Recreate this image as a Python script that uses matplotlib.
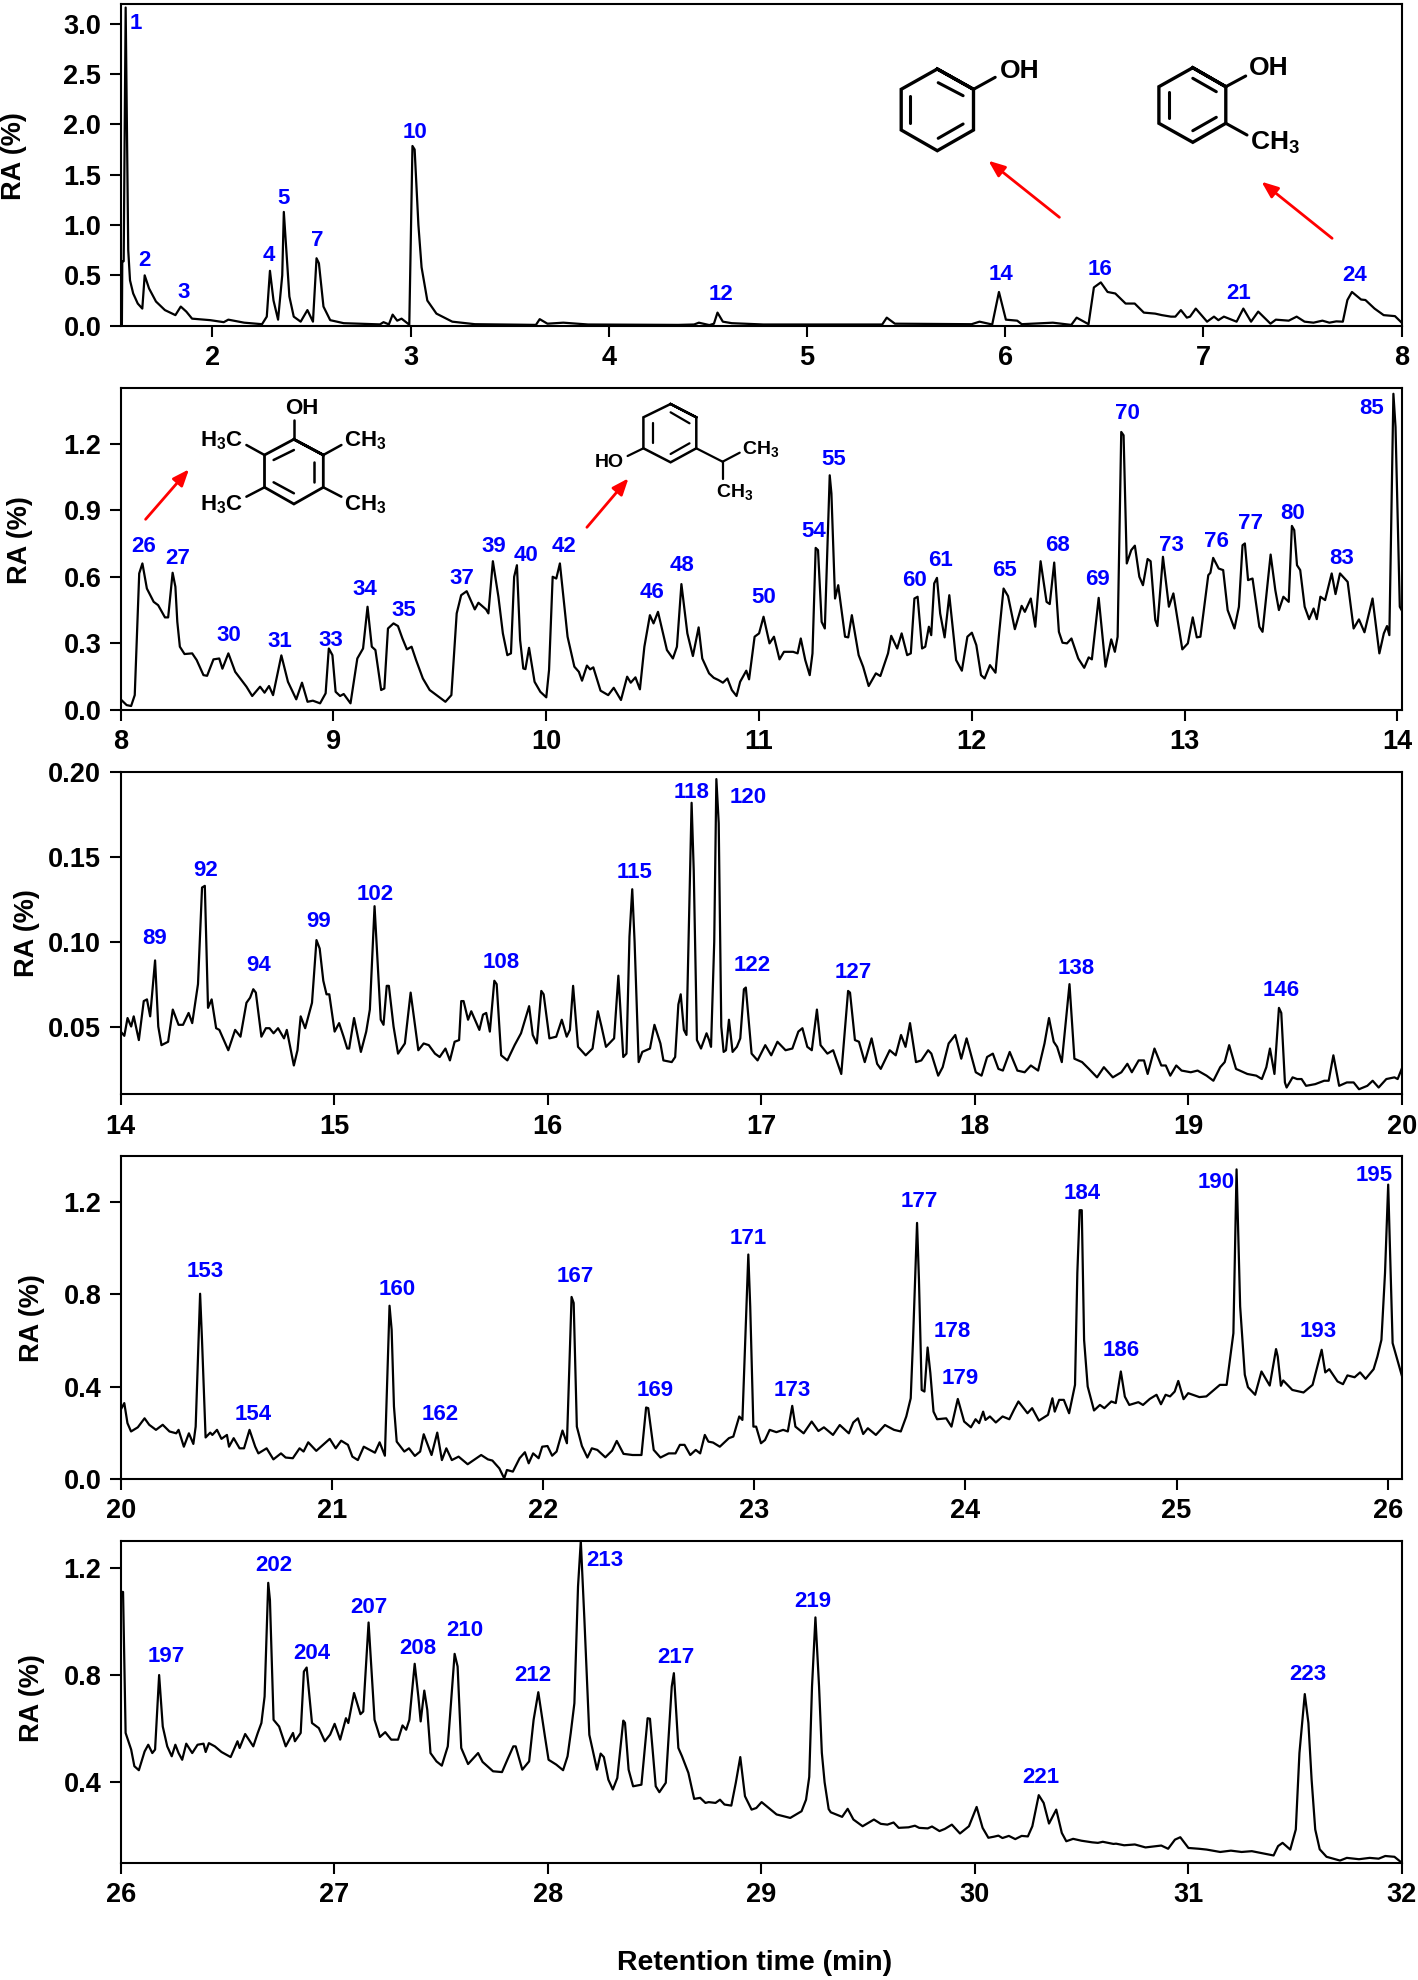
#!/usr/bin/env python
import matplotlib
matplotlib.use('Agg')
import matplotlib.pyplot as plt

plt.rcParams['font.family'] = ['Liberation Sans', 'DejaVu Sans']
plt.rcParams['font.weight'] = 'bold'
plt.rcParams['mathtext.fontset'] = 'custom'
plt.rcParams['mathtext.bf'] = 'Liberation Sans:bold'
plt.rcParams['mathtext.rm'] = 'Liberation Sans:bold'
plt.rcParams['mathtext.default'] = 'bf'

# panel 1, 1.5 - 8 min
t1 = [1.54,1.543,1.545,1.552,1.562,1.575,1.584,1.60,1.623,1.646,1.658,1.68,1.715,1.76,1.813,1.84,1.868,1.897,1.989,2.057,2.08,2.16,2.25,2.274,2.29,2.308,2.331,2.352,2.36,2.388,2.41,2.445,2.479,2.507,2.525,2.537,2.56,2.594,2.662,2.845,2.863,2.89,2.909,2.932,2.954,2.993,3.009,3.02,3.039,3.055,3.084,3.13,3.21,3.324,3.553,3.632,3.651,3.69,3.77,3.895,4.35,4.43,4.454,4.507,4.53,4.548,4.575,4.62,4.78,5.379,5.402,5.443,5.83,5.87,5.934,5.968,6.003,6.06,6.083,6.24,6.333,6.36,6.42,6.447,6.482,6.516,6.555,6.607,6.653,6.699,6.756,6.79,6.836,6.858,6.886,6.916,6.932,6.961,7.018,7.053,7.075,7.103,7.167,7.201,7.24,7.276,7.338,7.365,7.43,7.47,7.51,7.555,7.6,7.635,7.67,7.703,7.726,7.749,7.795,7.817,7.863,7.909,7.966,8.0]
ra1 = [0.0,0.0,.64,.64,3.16,.75,.45,.32,.22,.17,.50,.37,.24,.155,.105,.19,.14,.07,.055,.035,.06,.03,.015,.09,.545,.25,.06,.5,1.13,.29,.09,.04,.155,.04,.67,.62,.19,.055,.025,.013,.035,.013,.11,.05,.07,.01,1.785,1.75,1.0,.58,.25,.12,.04,.015,.01,.008,.065,.02,.03,.012,.008,.012,.03,.006,.02,.13,.04,.025,.012,.012,.08,.02,.015,.04,.012,.335,.06,.05,.015,.03,.008,.08,.015,.38,.43,.335,.32,.22,.22,.13,.12,.105,.09,.09,.155,.08,.09,.17,.04,.09,.055,.09,.04,.17,.04,.14,.02,.06,.05,.09,.04,.03,.05,.03,.043,.04,.255,.335,.26,.255,.17,.105,.095,.03]

# panel 2, 8 - 14 min
t2 = [8.0,8.028,8.049,8.066,8.087,8.102,8.123,8.155,8.176,8.208,8.223,8.244,8.257,8.266,8.278,8.3,8.336,8.357,8.389,8.406,8.436,8.463,8.478,8.506,8.538,8.591,8.618,8.655,8.676,8.697,8.716,8.755,8.786,8.825,8.852,8.878,8.903,8.937,8.963,8.978,8.995,9.01,9.031,9.048,9.08,9.112,9.139,9.16,9.18,9.197,9.224,9.239,9.256,9.282,9.303,9.324,9.345,9.367,9.388,9.42,9.452,9.484,9.526,9.554,9.579,9.6,9.626,9.664,9.681,9.717,9.728,9.749,9.775,9.796,9.817,9.834,9.849,9.862,9.877,9.892,9.902,9.919,9.945,9.972,10.0,10.013,10.03,10.047,10.064,10.1,10.132,10.153,10.168,10.191,10.206,10.221,10.255,10.291,10.317,10.351,10.38,10.397,10.419,10.44,10.461,10.487,10.504,10.525,10.567,10.595,10.614,10.635,10.663,10.689,10.716,10.733,10.765,
      10.787,10.809,10.83,10.851,10.872,10.894,10.911,10.94,10.953,10.979,11.0,11.021,11.049,11.07,11.096,11.117,11.16,11.181,11.196,11.217,11.238,11.251,11.266,11.277,11.294,11.309,11.332,11.34,11.357,11.372,11.404,11.419,11.436,11.468,11.489,11.515,11.549,11.57,11.606,11.621,11.649,11.67,11.696,11.713,11.73,11.745,11.766,11.781,11.798,11.809,11.823,11.836,11.851,11.872,11.894,11.926,11.953,11.979,12.0,12.021,12.043,12.06,12.085,12.111,12.128,12.149,12.17,12.202,12.234,12.249,12.277,12.298,12.323,12.351,12.366,12.387,12.409,12.426,12.447,12.468,12.5,12.528,12.549,12.564,12.596,12.628,12.655,12.672,12.685,12.702,12.713,12.728,12.749,12.766,12.787,12.804,12.826,12.84,12.862,12.872,12.898,12.926,12.947,12.989,13.015,13.038,13.057,13.074,13.111,13.121,13.134,13.16,13.181,13.202,13.234,13.255,13.272,13.283,13.298,13.319,13.351,13.366,13.404,13.426,13.443,13.464,13.489,13.504,13.515,13.528,13.543,13.564,13.585,13.606,13.621,13.638,13.66,13.691,13.709,13.73,13.766,13.794,13.819,13.845,13.883,13.915,13.936,13.951,13.962,13.981,13.991,14.011,14.021]
ra2 = [.048,.022,.018,.067,.615,.66,.547,.487,.472,.417,.417,.618,.555,.397,.285,.252,.255,.225,.157,.154,.228,.232,.186,.255,.172,.105,.063,.105,.078,.108,.067,.246,.127,.048,.123,.037,.042,.03,.075,.277,.247,.082,.063,.072,.03,.232,.277,.465,.285,.27,.09,.097,.367,.39,.378,.322,.273,.285,.225,.142,.09,.067,.037,.067,.435,.517,.535,.453,.483,.453,.435,.67,.51,.345,.247,.255,.6,.652,.315,.187,.184,.28,.127,.082,.057,.18,.6,.592,.66,.33,.195,.172,.132,.2,.183,.192,.087,.067,.1,.045,.15,.123,.147,.093,.285,.427,.39,.442,.27,.232,.285,.567,.345,.243,.372,.232,.165,
       .145,.135,.123,.142,.09,.063,.127,.177,.138,.33,.345,.42,.3,.33,.228,.262,.262,.255,.322,.225,.157,.255,.73,.72,.397,.367,1.057,.975,.502,.562,.33,.327,.427,.247,.195,.108,.165,.153,.255,.334,.277,.345,.247,.255,.502,.51,.277,.285,.375,.337,.57,.595,.435,.327,.517,.225,.177,.33,.348,.292,.157,.142,.202,.168,.345,.547,.513,.364,.469,.442,.502,.375,.67,.487,.477,.664,.352,.303,.3,.322,.232,.19,.237,.228,.505,.195,.318,.262,.33,1.252,1.237,.66,.72,.74,.6,.562,.68,.67,.405,.378,.69,.465,.525,.273,.3,.417,.327,.33,.607,.618,.685,.637,.63,.45,.367,.465,.742,.75,.585,.592,.375,.352,.7,.54,.45,.51,.487,.829,.81,.652,.63,.465,.409,.457,.409,.51,.495,.615,.522,.615,.577,.367,.408,.35,.502,.255,.345,.378,.337,1.424,1.274,.465,.447]

# panel 3, 14 - 20 min
t3 = [14.0,14.017,14.032,14.049,14.061,14.085,14.108,14.123,14.138,14.161,14.176,14.191,14.222,14.244,14.271,14.292,14.318,14.335,14.362,14.381,14.394,14.409,14.426,14.447,14.462,14.504,14.536,14.561,14.589,14.606,14.621,14.633,14.659,14.68,14.697,14.716,14.737,14.765,14.778,14.811,14.828,14.843,14.864,14.896,14.917,14.932,14.949,14.964,14.977,15.002,15.023,15.044,15.061,15.07,15.093,15.125,15.15,15.167,15.189,15.218,15.231,15.246,15.256,15.278,15.299,15.331,15.358,15.394,15.419,15.443,15.472,15.494,15.521,15.542,15.564,15.585,15.595,15.606,15.627,15.642,15.68,15.697,15.712,15.729,15.75,15.761,15.782,15.811,15.845,15.875,15.913,15.93,15.949,15.97,15.981,16.008,16.04,16.066,16.089,16.104,16.119,16.142,16.178,16.21,16.235,16.252,16.273,16.311,16.331,16.354,16.369,16.383,16.396,16.407,16.426,16.443,16.479,16.5,16.528,16.542,16.581,16.597,16.612,16.623,16.638,16.65,16.674,16.684,16.699,16.718,16.744,16.756,
      16.765,16.78,16.79,16.801,16.813,16.824,16.835,16.849,16.866,16.886,16.902,16.919,16.928,16.955,16.983,17.019,17.047,17.076,17.114,17.146,17.174,17.193,17.216,17.237,17.261,17.278,17.31,17.337,17.375,17.407,17.416,17.439,17.458,17.485,17.517,17.543,17.56,17.602,17.63,17.655,17.676,17.697,17.725,17.75,17.782,17.797,17.829,17.85,17.878,17.909,17.937,17.962,18.005,18.032,18.058,18.085,18.111,18.132,18.164,18.2,18.234,18.263,18.297,18.327,18.348,18.37,18.386,18.408,18.444,18.467,18.503,18.535,18.573,18.605,18.647,18.687,18.715,18.736,18.768,18.793,18.81,18.842,18.874,18.895,18.916,18.944,18.969,19.012,19.044,19.086,19.118,19.15,19.171,19.192,19.224,19.277,19.319,19.345,19.366,19.383,19.404,19.425,19.436,19.453,19.461,19.489,19.51,19.531,19.552,19.595,19.637,19.658,19.68,19.707,19.743,19.775,19.8,19.839,19.864,19.892,19.928,19.966,19.981,20.0]
ra3 = [.047,.0445,.055,.05,.056,.042,.065,.066,.056,.089,.05,.039,.041,.06,.051,.051,.058,.052,.075,.132,.133,.061,.066,.049,.048,.036,.048,.044,.064,.067,.072,.07,.044,.049,.049,.046,.049,.043,.048,.027,.036,.056,.049,.064,.101,.096,.077,.069,.069,.047,.052,.044,.037,.037,.055,.035,.047,.06,.121,.054,.051,.074,.074,.05,.034,.04,.07,.036,.04,.039,.034,.032,.037,.03,.041,.042,.065,.065,.054,.059,.048,.057,.058,.047,.077,.075,.033,.03,.039,.046,.062,.045,.04,.071,.069,.043,.044,.054,.044,.048,.074,.038,.033,.037,.059,.05,.038,.043,.08,.032,.034,.103,.131,.1,.029,.035,.037,.051,.04,.03,.029,.032,.063,.069,.048,.045,.182,.142,.042,.037,.046,.042,
       .038,.1,.196,.17,.05,.035,.036,.054,.035,.038,.043,.072,.073,.034,.03,.039,.033,.041,.036,.037,.047,.049,.038,.036,.06,.039,.034,.036,.022,.071,.07,.042,.041,.029,.043,.028,.025,.036,.033,.045,.038,.052,.029,.03,.036,.034,.021,.026,.04,.045,.031,.043,.023,.021,.032,.034,.025,.024,.035,.024,.023,.027,.024,.04,.055,.041,.038,.029,.075,.031,.029,.025,.02,.026,.02,.023,.028,.023,.03,.03,.022,.037,.027,.027,.021,.027,.024,.023,.024,.021,.018,.026,.029,.039,.025,.022,.021,.019,.026,.037,.022,.061,.058,.017,.014,.02,.019,.019,.015,.016,.018,.018,.033,.015,.017,.017,.013,.015,.018,.014,.019,.02,.019,.025]

# panel 4, 20 - 26 min
t4 = [20.0,20.017,20.032,20.049,20.081,20.113,20.135,20.167,20.199,20.231,20.263,20.274,20.299,20.323,20.344,20.355,20.376,20.385,20.402,20.424,20.434,20.456,20.477,20.503,20.513,20.535,20.563,20.584,20.61,20.637,20.652,20.691,20.723,20.759,20.781,20.815,20.847,20.866,20.888,20.926,20.958,20.99,21.018,21.044,21.076,21.097,21.123,21.151,21.204,21.226,21.251,21.273,21.283,21.294,21.307,21.343,21.365,21.393,21.418,21.435,21.472,21.499,21.521,21.542,21.568,21.6,21.643,21.707,21.739,21.76,21.793,21.816,21.829,21.857,21.889,21.914,21.932,21.953,21.979,21.996,22.021,22.043,22.064,22.092,22.113,22.135,22.145,22.16,22.184,22.21,22.231,22.257,22.295,22.327,22.349,22.381,22.424,22.466,22.488,22.498,22.524,22.556,22.595,22.627,22.648,22.67,22.697,22.723,22.744,22.766,22.783,
      22.805,22.837,22.88,22.901,22.929,22.944,22.972,22.981,22.996,23.009,23.032,23.051,23.073,23.105,23.137,23.159,23.18,23.195,23.234,23.272,23.304,23.33,23.373,23.405,23.448,23.469,23.491,23.516,23.538,23.576,23.619,23.662,23.694,23.72,23.741,23.752,23.771,23.78,23.793,23.806,23.821,23.834,23.849,23.866,23.909,23.934,23.964,23.994,24.026,24.048,24.065,24.084,24.095,24.116,24.144,24.176,24.208,24.23,24.251,24.294,24.316,24.348,24.391,24.412,24.423,24.444,24.466,24.491,24.519,24.53,24.541,24.551,24.562,24.579,24.609,24.637,24.658,24.691,24.712,24.736,24.755,24.776,24.819,24.841,24.873,24.905,24.926,24.948,24.969,24.991,25.008,25.033,25.055,25.108,25.141,25.205,25.237,25.269,25.284,25.301,25.323,25.338,25.372,25.402,25.441,25.471,25.479,25.494,25.505,25.548,25.601,25.644,25.687,25.704,25.723,25.762,25.788,25.809,25.843,25.869,25.895,25.933,25.951,25.97,25.987,26.002,26.023,26.066]
ra4 = [.3,.329,.242,.206,.224,.263,.235,.213,.235,.206,.198,.213,.14,.198,.152,.227,.803,.603,.18,.201,.191,.213,.174,.191,.14,.177,.133,.133,.213,.14,.111,.133,.085,.111,.093,.09,.133,.119,.159,.122,.148,.174,.133,.166,.148,.097,.082,.14,.114,.159,.101,.751,.647,.314,.162,.119,.133,.1,.119,.194,.104,.201,.082,.133,.082,.097,.064,.104,.085,.08,.046,.003,.039,.032,.09,.116,.068,.111,.09,.14,.143,.101,.119,.21,.155,.789,.763,.227,.143,.093,.133,.126,.094,.123,.165,.109,.104,.104,.31,.307,.126,.093,.111,.111,.148,.148,.104,.126,.111,.191,.162,
       .158,.14,.177,.184,.271,.256,.973,.748,.227,.227,.155,.169,.213,.203,.213,.206,.317,.227,.198,.249,.208,.224,.191,.234,.198,.245,.263,.195,.22,.191,.234,.213,.206,.271,.35,.603,1.11,.864,.386,.379,.57,.459,.292,.259,.263,.227,.347,.249,.224,.259,.242,.292,.256,.271,.245,.271,.259,.3,.336,.285,.307,.253,.278,.35,.292,.343,.343,.285,.408,.893,1.165,1.165,.603,.401,.297,.321,.307,.336,.329,.466,.357,.321,.333,.321,.347,.365,.324,.365,.358,.379,.425,.346,.372,.355,.358,.408,.408,.632,1.342,.748,.452,.398,.365,.466,.405,.563,.531,.404,.427,.386,.375,.408,.56,.462,.476,.423,.411,.449,.441,.462,.434,.476,.531,.603,.893,1.276,.589,.45]

# panel 5, 26 - 32 min
t5 = [26.0,26.011,26.023,26.049,26.064,26.085,26.112,26.129,26.148,26.161,26.18,26.197,26.218,26.239,26.256,26.271,26.288,26.307,26.335,26.36,26.388,26.398,26.413,26.441,26.472,26.515,26.547,26.557,26.583,26.621,26.642,26.659,26.674,26.691,26.699,26.716,26.742,26.773,26.807,26.816,26.843,26.858,26.871,26.896,26.928,26.956,26.981,27.002,27.028,27.055,27.066,27.093,27.123,27.136,27.161,27.189,27.214,27.239,27.267,27.299,27.32,27.337,27.352,27.377,27.394,27.405,27.422,27.436,27.451,27.479,27.504,27.532,27.564,27.578,27.595,27.627,27.674,27.695,27.744,27.786,27.811,27.839,27.85,27.881,27.913,27.934,27.956,27.987,28.004,28.04,28.072,28.093,28.108,28.125,28.142,28.155,28.172,28.195,28.231,28.248,28.263,28.284,28.305,28.326,28.354,28.362,28.379,28.4,28.439,28.468,28.479,28.506,28.523,28.553,28.581,28.591,28.612,28.629,28.659,28.686,28.714,28.739,
      28.754,28.786,28.807,28.828,28.86,28.881,28.902,28.924,28.955,28.977,29.002,29.04,29.072,29.136,29.189,29.21,29.225,29.238,29.254,29.271,29.284,29.297,29.316,29.326,29.379,29.405,29.432,29.475,29.528,29.56,29.591,29.62,29.644,29.69,29.72,29.74,29.78,29.8,29.835,29.86,29.893,29.931,29.973,30.009,30.037,30.064,30.09,30.111,30.13,30.16,30.19,30.22,30.249,30.27,30.3,30.323,30.348,30.382,30.408,30.429,30.461,30.5,30.55,30.577,30.6,30.65,30.662,30.7,30.75,30.8,30.874,30.906,30.938,30.963,31.001,31.05,31.086,31.1,31.15,31.2,31.25,31.298,31.35,31.4,31.421,31.442,31.478,31.504,31.521,31.546,31.563,31.578,31.595,31.616,31.648,31.711,31.743,31.8,31.85,31.892,31.923,31.966,32.0]
ra5 = [1.11,1.11,.584,.522,.46,.445,.515,.54,.509,.522,.8,.608,.534,.497,.54,.509,.484,.544,.509,.54,.544,.513,.546,.534,.513,.494,.553,.528,.58,.534,.584,.621,.72,1.144,1.08,.633,.608,.534,.584,.553,.584,.813,.828,.621,.602,.553,.578,.618,.559,.639,.621,.733,.654,.664,.996,.633,.569,.587,.559,.559,.612,.596,.633,.842,.72,.627,.742,.67,.509,.478,.462,.534,.879,.832,.528,.468,.509,.476,.441,.438,.484,.534,.534,.447,.478,.633,.736,.571,.484,.466,.445,.497,.584,.695,1.13,1.3,1.005,.577,.447,.507,.494,.41,.373,.416,.63,.622,.447,.385,.391,.639,.637,.385,.363,.398,.757,.807,.528,.497,.435,.338,.342,.323,
       .326,.323,.335,.317,.313,.398,.494,.348,.298,.304,.326,.301,.28,.267,.292,.335,.42,.757,1.015,.757,.51,.40,.30,.288,.271,.301,.261,.236,.261,.245,.242,.25,.23,.232,.238,.23,.228,.235,.218,.226,.242,.209,.236,.308,.23,.193,.197,.201,.192,.2,.188,.2,.198,.236,.352,.323,.246,.298,.211,.18,.189,.182,.176,.174,.178,.17,.171,.165,.168,.157,.164,.152,.186,.195,.155,.152,.149,.147,.14,.145,.14,.143,.135,.127,.162,.174,.149,.224,.509,.729,.621,.41,.224,.15,.122,.108,.118,.113,.118,.115,.125,.122,.1]

xlims = [(1.537, 8), (8, 14.02), (14, 20), (20, 26.066), (26, 32)]
ylims = [(0, 3.2), (0, 1.45), (0.01, 0.20), (0, 1.4), (0.1, 1.3)]
xticks = [range(2, 9), range(8, 15), range(14, 21), range(20, 27), range(26, 33)]
yticks = [[0, .5, 1, 1.5, 2, 2.5, 3], [0, .3, .6, .9, 1.2], [.05, .10, .15, .20], [0, .4, .8, 1.2], [.4, .8, 1.2]]
yfmt = ['%.1f', '%.1f', '%.2f', '%.1f', '%.1f']

# peak numbers, with where each one is written
peaks1 = ['1','2','3','4','5','7','10','12','14','16','21','24']
peaks1_x = [1.614,1.655,1.856,2.283,2.36,2.53,3.02,4.564,5.979,6.477,7.178,7.76]
peaks1_y = [3.0,.652,.33,.695,1.265,.85,1.92,.305,.51,.56,.32,.50]
peaks2 = ['26','27','30','31','33','34','35','37','39','40','42','46','48','50','54','55','60','61','65','68','69','70','73','76','77','80','83','85']
peaks2_x = [8.106,8.268,8.51,8.75,8.986,9.148,9.33,9.603,9.753,9.906,10.085,10.495,10.638,11.02,11.255,11.351,11.73,11.853,12.153,12.402,12.589,12.732,12.938,13.151,13.309,13.509,13.736,13.881]
peaks2_y = [.735,.682,.337,.307,.315,.543,.45,.592,.735,.697,.735,.529,.652,.505,.802,1.127,.585,.675,.627,.742,.588,1.334,.739,.757,.84,.885,.682,1.357]
peaks3 = ['89','92','94','99','102','108','115','118','120','122','127','138','146']
peaks3_x = [14.159,14.4,14.648,14.928,15.193,15.78,16.407,16.672,16.939,16.96,17.432,18.475,19.436]
peaks3_y = [.102,.142,.086,.112,.128,.088,.141,.188,.185,.086,.082,.084,.071]
peaks4 = ['153','154','160','162','167','169','171','173','177','178','179','184','186','190','193','195']
peaks4_x = [20.398,20.627,21.307,21.514,22.152,22.533,22.97,23.182,23.782,23.936,23.977,24.551,24.736,25.188,25.672,25.938]
peaks4_y = [.9,.278,.82,.278,.878,.383,1.042,.383,1.201,.64,.437,1.236,.557,1.287,.64,1.315]
peaks5 = ['197','202','204','207','208','210','212','213','217','219','221','223']
peaks5_x = [26.214,26.716,26.894,27.161,27.39,27.61,27.93,28.267,28.602,29.24,30.308,31.559]
peaks5_y = [.869,1.208,.881,1.053,.898,.966,.80,1.229,.867,1.074,.416,.803]

traces = [(t1, ra1), (t2, ra2), (t3, ra3), (t4, ra4), (t5, ra5)]
labels = [(peaks1, peaks1_x, peaks1_y), (peaks2, peaks2_x, peaks2_y), (peaks3, peaks3_x, peaks3_y),
          (peaks4, peaks4_x, peaks4_y), (peaks5, peaks5_x, peaks5_y)]

W, H = 1418., 1980.
# top, bottom of each panel and place of its RA label, in pixels
tops = [3.5, 388, 772.3, 1156, 1541]
bottoms = [325.7, 710, 1094.3, 1479, 1862.7]
ylab_x = [13.6, 20, 27, 31.6, 31.6]
ylab_y = [156, 540, 933, 1318, 1698]
left, right = 120.7, 1401.7

fig = plt.figure(figsize=(W / 100, H / 100), dpi=100)

for i in range(5):
    ax = fig.add_axes([left / W, 1 - bottoms[i] / H, (right - left) / W, (bottoms[i] - tops[i]) / H])
    ax.plot(traces[i][0], traces[i][1], color='black', lw=1.6)
    ax.set_xlim(*xlims[i])
    ax.set_ylim(*ylims[i])
    ax.set_xticks(list(xticks[i]))
    ax.set_yticks(yticks[i])
    ax.set_yticklabels([yfmt[i] % v for v in yticks[i]])
    ax.tick_params(direction='out', length=8, width=1.5, labelsize=19.5, pad=6)
    for s in ax.spines.values():
        s.set_linewidth(1.5)
    names, xs, ys = labels[i]
    for name, x, y in zip(names, xs, ys):
        ax.text(x, y, name, color='#0000ff', fontsize=16, ha='center', va='center')
    fig.text(ylab_x[i] / W, 1 - ylab_y[i] / H, 'RA (%)', rotation=90,
             fontsize=19.5, ha='center', va='center')

fig.text(755 / W, 1 - 1963 / H, 'Retention time (min)', fontsize=20.5, ha='center', va='center')

# overlay in pixel coordinates for the structures and arrows
ov = fig.add_axes([0, 0, 1, 1])
ov.set_xlim(0, W)
ov.set_ylim(H, 0)
ov.axis('off')
ov.patch.set_alpha(0)


def bonds(lines, lw=2.0):
    for x0, y0, x1, y1 in lines:
        ov.plot([x0, x1], [y0, y1], color='black', lw=lw, solid_capstyle='round')


def ring(pts, lw=2.0):
    xs = [p[0] for p in pts] + [pts[0][0], pts[1][0]]
    ys = [p[1] for p in pts] + [pts[0][1], pts[1][1]]
    ov.plot(xs, ys, color='black', lw=lw, solid_joinstyle='miter')


def arrow(x0, y0, x1, y1):
    ov.annotate('', xy=(x1, y1), xytext=(x0, y0),
                arrowprops=dict(arrowstyle='-|>,head_length=0.55,head_width=0.22', color='red', lw=2.0,
                                shrinkA=0, shrinkB=0, mutation_scale=18))


# phenol
ring([(937.3, 69), (973.5, 89.3), (973.5, 130), (937.3, 150.7), (901.2, 130), (901.2, 89.3)], 2.4)
bonds([(973.5, 89.3, 995.2, 77.3), (938.2, 82.7, 963.1, 95.7), (910.2, 95.7, 910.2, 123.3), (938.2, 138.3, 963.1, 124)], 2.2)
ov.text(1019.2, 70.7, 'OH', fontsize=19, ha='center', va='center')
# o-cresol
ring([(1192.8, 67.7), (1225.8, 86.7), (1225.8, 123.3), (1192.8, 142.3), (1158.9, 123.3), (1158.9, 86.7)], 2.4)
bonds([(1225.8, 86.7, 1245.7, 76), (1225.8, 123.3, 1247, 135), (1192.8, 78.3, 1216.3, 91.7),
       (1168.9, 91.7, 1168.9, 118.3), (1192.8, 130.7, 1216.3, 117.3)], 2.2)
ov.text(1268.3, 68.3, 'OH', fontsize=19, ha='center', va='center')
ov.text(1275, 143, r'CH$_{3}$', fontsize=19, ha='center', va='center')
# tetramethylphenol
ring([(293.9, 439.3), (323.3, 455), (323.3, 487.3), (293.9, 504), (264.5, 487.3), (264.5, 455)], 2.0)
bonds([(293.9, 439.3, 293.9, 420), (323.3, 455, 341.4, 445), (323.3, 487.3, 341.4, 496.7),
       (264.5, 455, 246.4, 445), (264.5, 487.3, 246.4, 496.7), (273.6, 460, 293.9, 450),
       (314.2, 461.7, 314.2, 481.7), (273.6, 482.3, 293.9, 493.3)], 1.8)
ov.text(301.6, 408.3, 'OH', fontsize=16, ha='center', va='center')
ov.text(365.3, 441, r'CH$_{3}$', fontsize=16, ha='center', va='center')
ov.text(365.3, 505, r'CH$_{3}$', fontsize=16, ha='center', va='center')
ov.text(221.6, 441, r'H$_{3}$C', fontsize=16, ha='center', va='center')
ov.text(221.6, 505, r'H$_{3}$C', fontsize=16, ha='center', va='center')
# isopropylphenol
ring([(670.6, 404), (696.3, 417.3), (696.3, 448.3), (670.6, 462.3), (643.4, 448.3), (643.4, 417.3)], 1.8)
bonds([(643.4, 448.3, 627.6, 456), (670.6, 412.3, 689.5, 423.3), (652.5, 423.3, 652.5, 443.3),
       (670.6, 454, 689.5, 443.3), (696.3, 448.3, 722.6, 461.7), (722.6, 461.7, 739.7, 452.7),
       (722.6, 461.7, 722.6, 479.3)], 1.6)
ov.text(609.5, 462.3, 'HO', fontsize=14, ha='center', va='center')
ov.text(761, 449, r'CH$_{3}$', fontsize=14, ha='center', va='center')
ov.text(734.8, 491.7, r'CH$_{3}$', fontsize=14, ha='center', va='center')

arrow(1059.4, 217.3, 988.4, 160.7)
arrow(1332.1, 238.3, 1261.5, 181.7)
arrow(145.6, 519.3, 189, 469.3)
arrow(586.9, 527.3, 628.5, 478.3)

fig.savefig('out.png', dpi=100)
